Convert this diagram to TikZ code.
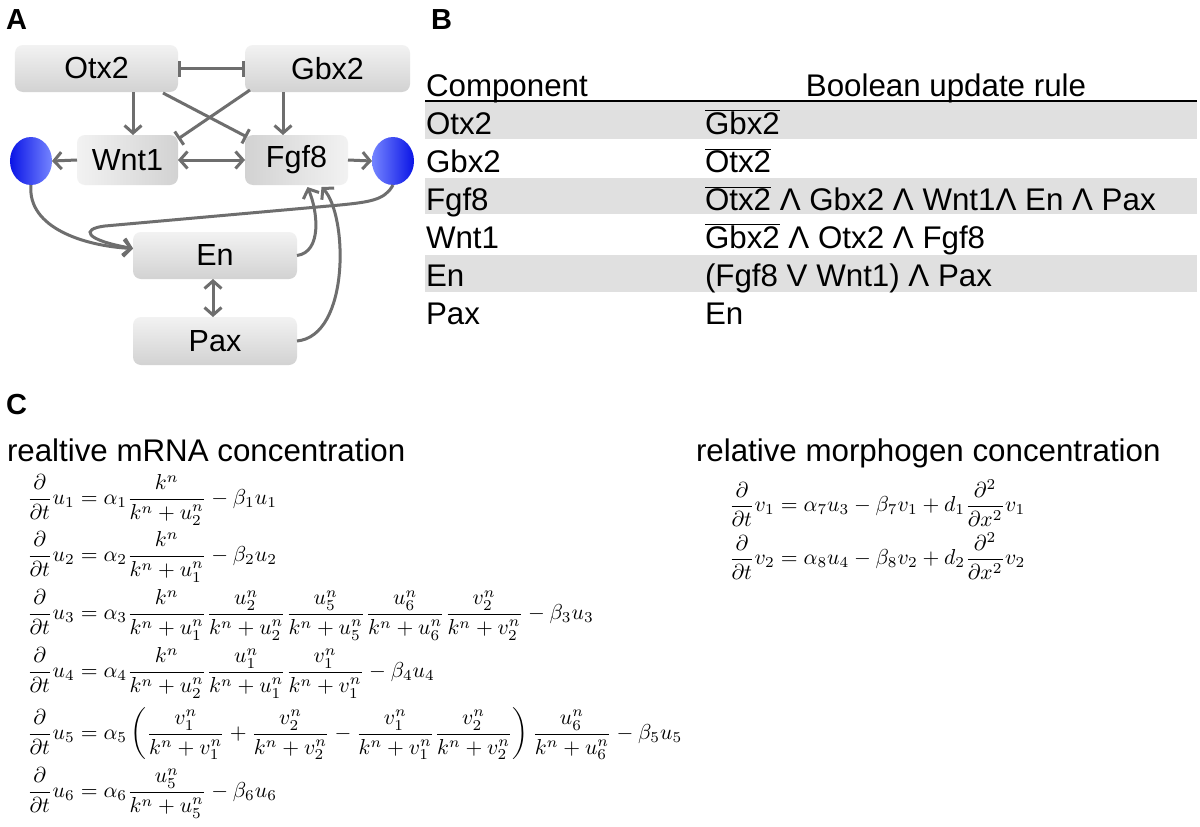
\documentclass[tikz,border=0pt]{standalone}
\usepackage{fontspec}
\setmainfont{Liberation Sans}
\usetikzlibrary{arrows.meta,calc,shapes.geometric}
\definecolor{edgegray}{HTML}{6E6E6E}
\definecolor{rowgray}{HTML}{E0E0E0}
\definecolor{bluedark}{HTML}{0A14E6}
\definecolor{bluelight}{HTML}{7585FF}
\definecolor{boxlight}{HTML}{F2F2F2}
\definecolor{boxdark}{HTML}{D2D2D2}
\newcommand{\sfbig}{\fontsize{31.3bp}{37bp}\selectfont}
\newcommand{\sfnode}{\fontsize{30.5bp}{36bp}\selectfont}
\newcommand{\eqs}[1]{\scalebox{2.17}{$\displaystyle #1$}}
\begin{document}
\begin{tikzpicture}[x=1bp,y=-1bp,
  every node/.style={inner sep=0pt,outer sep=0pt},
  gene/.style={rectangle,rounded corners=8bp,font=\sfnode,top color=boxlight,bottom color=boxdark},
  genelr/.style={rectangle,rounded corners=8bp,font=\sfnode,left color=boxlight,right color=boxdark},
  generl/.style={rectangle,rounded corners=8bp,font=\sfnode,left color=boxdark,right color=boxlight},
  morph/.style={ellipse,minimum width=42bp,minimum height=48bp},
  conn/.style={draw=edgegray,line width=3bp},
  act/.style={conn,-{Straight Barb[length=7.5bp,width=17bp]}},
  biact/.style={conn,{Straight Barb[length=7.5bp,width=17bp]}-{Straight Barb[length=7.5bp,width=17bp]}},
  inh/.style={conn,-{Bar[width=16bp]}},
  biinh/.style={conn,{Bar[width=16bp]}-{Bar[width=16bp]}},
  panel/.style={font=\fontsize{29bp}{34bp}\selectfont\bfseries,anchor=base west},
  sftext/.style={font=\sfbig,anchor=base west},
  eq/.style={anchor=west}
]
\useasboundingbox (0,0) rectangle (1200,827);
\fill[white] (0,0) rectangle (1200,827);

% ---------- Panel A ----------
\node[panel] (labA) at (6,29) {A};
\node[gene,minimum width=163bp,minimum height=47bp] (Otx2) at (96.5,68.5) {Otx2};
\node[gene,minimum width=165bp,minimum height=47bp] (Gbx2) at (327.5,68.5) {Gbx2};
\node[genelr,minimum width=101bp,minimum height=50bp] (Wnt1) at (127.5,160) {Wnt1};
\node[generl,minimum width=103bp,minimum height=50bp] (Fgf8) at (296.5,160) {Fgf8};
\node[gene,minimum width=164bp,minimum height=47bp] (En) at (215,255.5) {En};
\node[gene,minimum width=164bp,minimum height=48bp] (Pax) at (215,341) {Pax};
\node[morph,left color=bluedark,right color=bluelight] (ML) at (31,161) {};
\node[morph,left color=bluelight,right color=bluedark] (MR) at (393,161) {};

\draw[biinh] (Otx2.east) -- (Gbx2.west);
\draw[act] (Otx2.south -| 133,0) -- (Wnt1.north -| 133,0);
\draw[act] (Gbx2.south -| 283,0) -- (Fgf8.north -| 283,0);
\draw[inh] ($(Otx2.south east)+(-15,1)$) -- ($(Fgf8.north west)+(2,2)$);
\draw[inh] ($(Gbx2.south west)+(5,-2)$) -- ($(Wnt1.north east)+(0,4)$);
\draw[biact] (Wnt1.east) -- (Fgf8.west);
\draw[act] (Wnt1.west) -- (ML.east);
\draw[act] (Fgf8.east) -- (MR.west);
\draw[biact] (En.south -| 213,0) -- (Pax.north -| 213,0);
\coordinate (enin) at ($(En.west)+(0,-7)$);
\draw[act] (ML.south) .. controls (27,228) and (85,246) .. (enin);
\draw[act] (MR.south) .. controls (385,200) and (370,202) .. (340,205)
   -- (105,226) .. controls (80,229) and (85,240) .. (enin);
\draw[act] (En.east) .. controls (322,252) and (318,212) .. ($(Fgf8.south)+(11,2)$);
\draw[act] (Pax.east) .. controls (350,336) and (348,215) .. ($(Fgf8.south)+(25,2)$);

% ---------- Panel B ----------
\node[panel] (labB) at (431,29) {B};
\fill[rowgray] (425,102) rectangle (1197,139);
\fill[rowgray] (425,178) rectangle (1197,214);
\fill[rowgray] (425,255) rectangle (1197,292);
\draw[line width=2bp] (425,101) -- (1197,101);
\node[sftext] (hcomp) at (426,96) {Component};
\node[font=\sfbig,anchor=base] (hrule) at (946,96) {Boolean update rule};
\node[sftext] (c1) at (426,134) {Otx2};
\node[sftext] (c2) at (426,172) {Gbx2};
\node[sftext] (c3) at (426,210) {Fgf8};
\node[sftext] (c4) at (426,248) {Wnt1};
\node[sftext] (c5) at (426,286) {En};
\node[sftext] (c6) at (426,324) {Pax};
\node[sftext] (r1) at (705,134) {$\overline{\mbox{Gbx2}}$};
\node[sftext] (r2) at (705,172) {$\overline{\mbox{Otx2}}$};
\node[sftext] (r3) at (705,210) {$\overline{\mbox{Otx2}}$ Λ Gbx2 Λ Wnt1Λ En Λ Pax};
\node[sftext] (r4) at (705,248) {$\overline{\mbox{Gbx2}}$ Λ Otx2 Λ Fgf8};
\node[sftext] (r5) at (705,286) {(Fgf8 V Wnt1) Λ Pax};
\node[sftext] (r6) at (705,324) {En};

% ---------- Panel C ----------
\node[panel] (labC) at (6,414) {C};
\node[sftext] (hm) at (7,461) {realtive mRNA concentration};
\node[sftext] (hp) at (696,461) {relative morphogen concentration};

\node[eq] (e1) at (27,500) {\eqs{\frac{\partial}{\partial t}u_1=\alpha_1\frac{k^n}{k^n+u_2^n}-\beta_1u_1}};
\node[eq] (e2) at (27,557) {\eqs{\frac{\partial}{\partial t}u_2=\alpha_2\frac{k^n}{k^n+u_1^n}-\beta_2u_2}};
\node[eq] (e3) at (27,615) {\eqs{\frac{\partial}{\partial t}u_3=\alpha_3\frac{k^n}{k^n+u_1^n}\frac{u_2^n}{k^n+u_2^n}\frac{u_5^n}{k^n+u_5^n}\frac{u_6^n}{k^n+u_6^n}\frac{v_2^n}{k^n+v_2^n}-\beta_3u_3}};
\node[eq] (e4) at (27,673) {\eqs{\frac{\partial}{\partial t}u_4=\alpha_4\frac{k^n}{k^n+u_2^n}\frac{u_1^n}{k^n+u_1^n}\frac{v_1^n}{k^n+v_1^n}-\beta_4u_4}};
\node[eq] (e5) at (27,734) {\eqs{\frac{\partial}{\partial t}u_5=\alpha_5\left(\frac{v_1^n}{k^n+v_1^n}+\frac{v_2^n}{k^n+v_2^n}-\frac{v_1^n}{k^n+v_1^n}\frac{v_2^n}{k^n+v_2^n}\right)\frac{u_6^n}{k^n+u_6^n}-\beta_5u_5}};
\node[eq] (e6) at (27,793) {\eqs{\frac{\partial}{\partial t}u_6=\alpha_6\frac{u_5^n}{k^n+u_5^n}-\beta_6u_6}};

\node[eq] (f1) at (729,503) {\eqs{\frac{\partial}{\partial t}v_1=\alpha_7u_3-\beta_7v_1+d_1\frac{\partial^2}{\partial x^2}v_1}};
\node[eq] (f2) at (729,556) {\eqs{\frac{\partial}{\partial t}v_2=\alpha_8u_4-\beta_8v_2+d_2\frac{\partial^2}{\partial x^2}v_2}};
\end{tikzpicture}
\end{document}
